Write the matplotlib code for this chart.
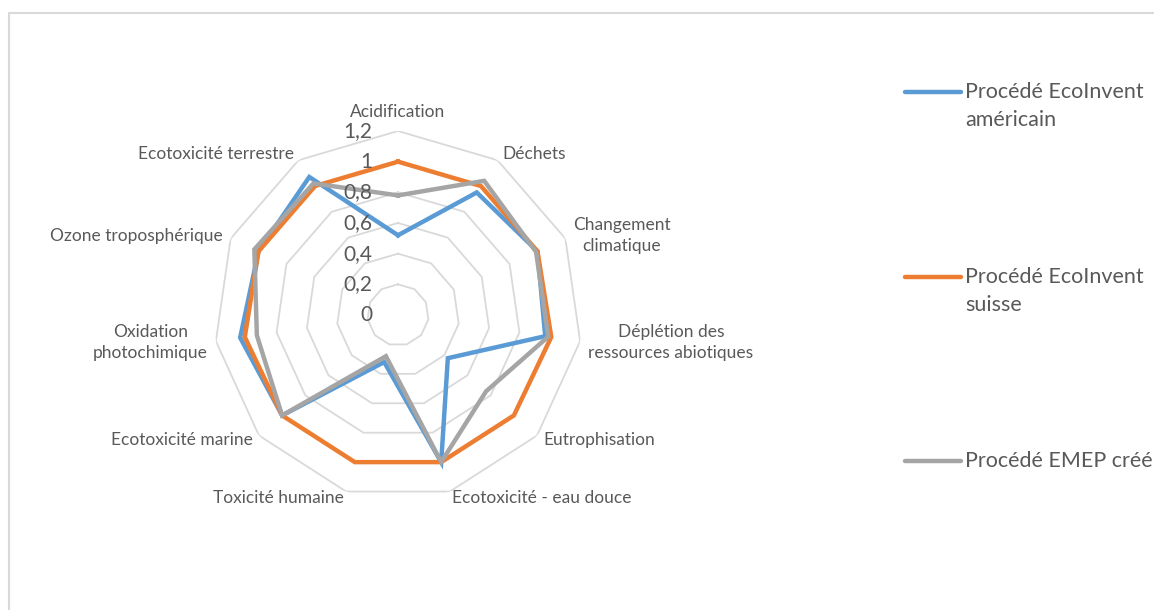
#Radar chart: comparaison des procédés (EcoInvent US / CH / EMEP)
import numpy as np
import matplotlib
matplotlib.use("Agg")
import matplotlib.pyplot as plt
from matplotlib.lines import Line2D
from matplotlib.patches import Rectangle

categories = ["Acidification", "Déchets", "Changement\nclimatique",
              "Déplétion des\nressources abiotiques", "Eutrophisation",
              "Ecotoxicité - eau douce", "Toxicité humaine", "Ecotoxicité marine",
              "Oxidation\nphotochimique", "Ozone troposphérique", "Ecotoxicité terrestre"]
americain = [0.52, 0.95, 1.0, 0.97, 0.43, 1.0, 0.32, 1.0, 1.04, 1.0, 1.07]
suisse    = [1.0, 1.0, 1.0, 1.01, 1.0, 1.0, 1.0, 1.0, 1.01, 1.0, 1.0]
emep      = [0.78, 1.04, 0.99, 0.99, 0.76, 1.0, 0.28, 1.0, 0.93, 1.03, 1.02]
series_names = ["Procédé EcoInvent\naméricain", "Procédé EcoInvent\nsuisse", "Procédé EMEP créé"]
ring_values = [0.2, 0.4, 0.6, 0.8, 1.0, 1.2]
ring_labels = ["0", "0,2", "0,4", "0,6", "0,8", "1", "1,2"]

plt.rcParams.update({"font.family": ["Lato", "DejaVu Sans"]})
TXT = "#595959"
GRID = "#D9D9D9"
COLORS = ["#5B9BD5", "#ED7D31", "#A5A5A5"]

W, H = 1154, 610
fig = plt.figure(figsize=(W/100, H/100), dpi=100)
cx, cy, R = 398, 315, 184
ax = fig.add_axes([(cx-R)/W, (H-cy-R)/H, 2*R/W, 2*R/H], projection="polar")
ax.set_theta_zero_location("N")
ax.set_theta_direction(-1)
ax.set_ylim(0, 1.2)
ax.grid(False)
ax.spines["polar"].set_visible(False)
ax.set_xticks([]); ax.set_yticks([])
ax.patch.set_alpha(0)

n = len(categories)
theta = np.arange(n) * 2*np.pi/n
tc = np.append(theta, theta[0])

# polygonal rings
for r in ring_values:
    ax.plot(tc, [r]*(n+1), color=GRID, lw=1.3, zorder=1)

for vals, col in zip([americain, suisse, emep], COLORS):
    ax.plot(tc, vals + vals[:1], color=col, lw=3.2, solid_joinstyle="miter", zorder=3)

# value axis labels
for i, lab in enumerate(ring_labels):
    ax.annotate(lab, xy=(0, 0.2*i), xytext=(-18.5, 0), textcoords="offset points",
                ha="right", va="center", fontsize=15, color=TXT, zorder=4)

# category labels
for t, lab in zip(theta, categories):
    s, c = np.sin(t), np.cos(t)
    if abs(s) < 0.2:
        ha, va, off = "center", ("bottom" if c > 0 else "top"), (0, 8*c)
    else:
        ha, va, off = ("left" if s > 0 else "right"), "center", (6*s, 5*c)
    ax.annotate(lab, xy=(t, 1.2), xytext=off, textcoords="offset points",
                ha=ha, va=va, multialignment="center", fontsize=12.5, color=TXT,
                linespacing=1.4, annotation_clip=False)

# manual legend (handle aligned with first text line, as in Excel)
for name, col, y in zip(series_names, COLORS, [92, 277, 461]):
    fig.add_artist(Line2D([905/W, 961/W], [1-y/H, 1-y/H], color=col, lw=3.2,
                          solid_capstyle="round"))
    fig.text(965/W, 1-(y-10)/H, name, ha="left", va="top", fontsize=15.5,
             color=TXT, linespacing=1.5)

# chart frame
fig.add_artist(Rectangle((9/W, -0.05), 1.1, 1+0.05-13/H, fill=False,
                         ec=GRID, lw=1.5, transform=fig.transFigure))

fig.savefig("out.png", dpi=100)
